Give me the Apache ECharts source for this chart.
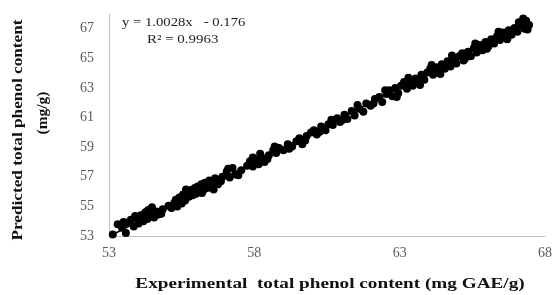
<!DOCTYPE html>
<html>
<head>
<meta charset="utf-8">
<script src="https://cdn.jsdelivr.net/npm/echarts@6/dist/echarts.min.js"></script>
<style>
  html, body { margin: 0; padding: 0; background: #fff; }
  #chart { width: 555px; height: 295px; }
</style>
</head>
<body>
<div id="chart"></div>
<script>
// experimental vs predicted total phenol content (mg/g)
var points = [
  [53.13, 53.10], [53.30, 53.80], [53.45, 53.55], [53.58, 53.20], [53.62, 53.90],
  [53.75, 54.10], [53.85, 53.65], [53.95, 54.20], [54.02, 53.85], [54.10, 54.40],
  [54.18, 54.00], [54.25, 54.60], [54.32, 54.15], [54.40, 54.45], [54.48, 54.95],
  [54.55, 54.25], [54.62, 54.65], [54.70, 54.45], [54.85, 54.80], [55.05, 55.05],
  [55.15, 54.90], [55.25, 55.25], [55.35, 55.00], [55.42, 55.60], [55.50, 55.20],
  [55.55, 55.80], [55.62, 55.40], [55.70, 56.00], [55.75, 55.65], [55.82, 56.10],
  [55.88, 55.75], [55.95, 56.25], [56.00, 55.85], [56.05, 56.35], [56.12, 56.00],
  [56.18, 56.50], [56.25, 56.10], [56.30, 56.60], [56.38, 56.25], [56.45, 56.75],
  [56.55, 56.35], [56.65, 56.90], [56.75, 56.50], [56.90, 57.00], [57.05, 57.35],
  [57.15, 56.95], [57.25, 57.60], [57.35, 57.15], [57.55, 57.45], [57.75, 57.75],
  [57.85, 58.05], [57.95, 57.70], [58.05, 58.15], [58.15, 57.85], [58.25, 58.30],
  [58.35, 58.00], [58.50, 58.45], [58.65, 58.80], [58.75, 58.60], [58.85, 58.95],
  [59.00, 58.80], [59.15, 59.20], [59.30, 59.05], [59.45, 59.40], [59.55, 59.60],
  [59.65, 59.20], [59.80, 59.75], [59.95, 60.00], [60.05, 60.15], [60.15, 59.85],
  [60.30, 60.40], [60.45, 60.15], [60.55, 60.55], [60.70, 60.50], [60.85, 60.95],
  [60.95, 60.70], [61.10, 61.20], [61.20, 60.90], [61.35, 61.45], [61.45, 61.15],
  [61.60, 61.60], [61.75, 61.40], [61.85, 61.95], [62.00, 61.80], [62.15, 62.25],
  [62.30, 62.40], [62.40, 62.05], [62.55, 62.60], [62.65, 62.85], [62.75, 62.45],
  [62.85, 63.00], [62.95, 62.65], [63.05, 63.15], [63.15, 63.40], [63.25, 62.95],
  [63.35, 63.45], [63.45, 63.15], [63.55, 63.65], [63.65, 63.40], [63.75, 63.90],
  [63.85, 63.55], [63.95, 64.05], [64.05, 64.30], [64.15, 63.90], [64.25, 64.40],
  [64.35, 64.10], [64.45, 64.60], [64.55, 64.30], [64.65, 64.80], [64.75, 64.45],
  [64.85, 64.95], [64.95, 64.65], [65.05, 65.15], [65.15, 65.35], [65.25, 65.00],
  [65.35, 65.45], [65.45, 65.15], [65.55, 65.70], [65.65, 65.40], [65.75, 65.90],
  [65.85, 65.55], [65.95, 66.10], [66.05, 65.80], [66.15, 66.30], [66.25, 66.00],
  [66.35, 66.50], [66.45, 66.25], [66.55, 66.75], [66.65, 66.45], [66.75, 66.90],
  [66.85, 66.60], [66.95, 67.05], [67.05, 66.80], [67.15, 67.25], [67.25, 67.70],
  [67.30, 67.00], [67.35, 67.55], [67.45, 67.25],
  [53.50, 53.95], [53.90, 54.35], [54.35, 54.75], [54.80, 54.50], [55.30, 55.45],
  [55.65, 56.15], [55.90, 56.05], [56.20, 55.90], [56.40, 56.45], [56.60, 56.15],
  [56.85, 56.70], [57.10, 57.55], [57.45, 57.10], [57.95, 58.30], [58.20, 58.55],
  [58.45, 58.20], [58.70, 59.05], [59.20, 58.90], [59.75, 59.45], [60.25, 60.05],
  [60.65, 60.85], [61.05, 60.85], [61.55, 61.85], [62.10, 61.95], [62.50, 62.85],
  [62.90, 62.40], [63.30, 63.70], [63.70, 63.20], [64.10, 64.55], [64.40, 63.95],
  [64.80, 65.20], [65.20, 64.85], [65.60, 66.00], [66.00, 65.65], [66.40, 66.80],
  [66.70, 66.30], [67.10, 67.45], [67.40, 66.95]
];
// linear trend line ends
var trendLine = [[53.1, 53.07], [67.45, 67.46]];
var equationText = 'y = 1.0028x   - 0.176';
var r2Text = 'R² = 0.9963';
var xTitle = 'Experimental  total phenol content (mg GAE/g)';
var yTitle1 = 'Predicted total phenol content';
var yTitle2 = '(mg/g)';

var chart = echarts.init(document.getElementById('chart'));
var serif = '"Liberation Serif", "Times New Roman", serif';

var option = {
  animation: false,
  backgroundColor: '#fff',
  grid: { left: 109, right: 7, top: 14, bottom: 59 },
  xAxis: {
    type: 'value',
    min: 53, max: 68, interval: 5,
    axisLine: { show: true, lineStyle: { color: '#bfbfbf', width: 1 } },
    axisTick: { show: false },
    splitLine: { show: false },
    axisLabel: { color: '#595959', fontFamily: serif, fontSize: 14, margin: 10 }
  },
  yAxis: {
    type: 'value',
    min: 53, max: 68, interval: 2,
    axisLine: { show: true, lineStyle: { color: '#bfbfbf', width: 1 } },
    axisTick: { show: false },
    splitLine: { show: false },
    axisLabel: { color: '#595959', fontFamily: serif, fontSize: 14, margin: 15, showMaxLabel: false }
  },
  series: [
    {
      type: 'scatter',
      data: points,
      symbol: 'circle',
      symbolSize: 8,
      itemStyle: { color: '#000', opacity: 1 }
    },
    {
      type: 'line',
      data: trendLine,
      symbol: 'none',
      lineStyle: { color: '#000', width: 1.5 }
    }
  ],
  graphic: [
    {
      type: 'text', x: 122, y: 23, scaleX: 1.13,
      style: { text: equationText, font: '13px ' + serif, fill: '#222', align: 'left', verticalAlign: 'middle' }
    },
    {
      type: 'text', x: 147, y: 40, scaleX: 1.15,
      style: { text: r2Text, font: '13px ' + serif, fill: '#222', align: 'left', verticalAlign: 'middle' }
    },
    {
      type: 'text', x: 18, y: 130, rotation: Math.PI / 2, scaleX: 1.23,
      style: { text: yTitle1, font: 'bold 14px ' + serif, fill: '#111', align: 'center', verticalAlign: 'middle' }
    },
    {
      type: 'text', x: 43, y: 113, rotation: Math.PI / 2, scaleX: 1.1,
      style: { text: yTitle2, font: 'bold 14px ' + serif, fill: '#111', align: 'center', verticalAlign: 'middle' }
    },
    {
      type: 'text', x: 330, y: 284, scaleX: 1.28,
      style: { text: xTitle, font: 'bold 15px ' + serif, fill: '#111', align: 'center', verticalAlign: 'middle' }
    }
  ]
};
chart.setOption(option);
</script>
</body>
</html>
